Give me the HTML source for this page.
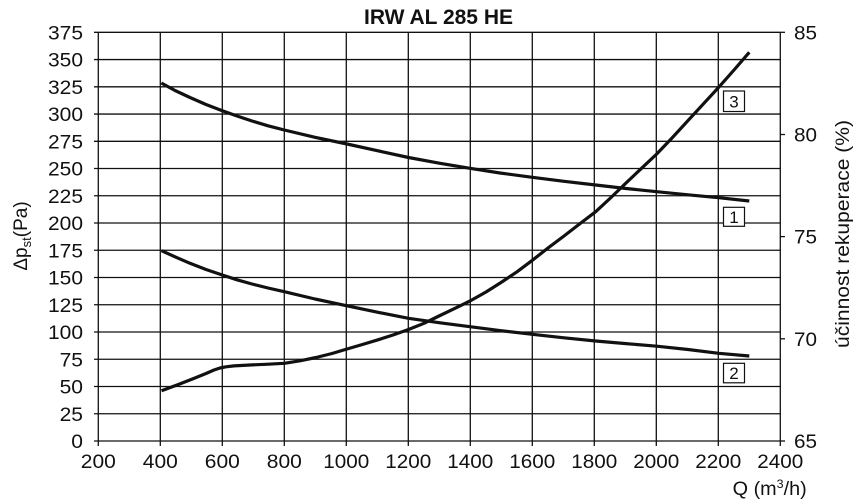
<!DOCTYPE html>
<html><head><meta charset="utf-8"><style>
html,body{margin:0;padding:0;background:#fff;}
svg{display:block;}
text{font-family:"Liberation Sans",Arial,sans-serif;fill:#111;}
</style></head><body>
<svg width="860" height="504" viewBox="0 0 860 504" xmlns="http://www.w3.org/2000/svg">
<rect width="860" height="504" fill="#fff"/>
<text x="438.5" y="24" font-size="21" font-weight="bold" text-anchor="middle">IRW AL 285 HE</text>
<g stroke="#111" stroke-width="1.3" fill="none">
<line x1="94" y1="441" x2="780.3" y2="441"/>
<line x1="94" y1="413.75" x2="780.3" y2="413.75"/>
<line x1="94" y1="386.5" x2="780.3" y2="386.5"/>
<line x1="94" y1="359.26" x2="780.3" y2="359.26"/>
<line x1="94" y1="332.01" x2="780.3" y2="332.01"/>
<line x1="94" y1="304.77" x2="780.3" y2="304.77"/>
<line x1="94" y1="277.52" x2="780.3" y2="277.52"/>
<line x1="94" y1="250.27" x2="780.3" y2="250.27"/>
<line x1="94" y1="223.03" x2="780.3" y2="223.03"/>
<line x1="94" y1="195.78" x2="780.3" y2="195.78"/>
<line x1="94" y1="168.53" x2="780.3" y2="168.53"/>
<line x1="94" y1="141.29" x2="780.3" y2="141.29"/>
<line x1="94" y1="114.04" x2="780.3" y2="114.04"/>
<line x1="94" y1="86.8" x2="780.3" y2="86.8"/>
<line x1="94" y1="59.55" x2="780.3" y2="59.55"/>
<line x1="94" y1="32.3" x2="780.3" y2="32.3"/>
<line x1="98.3" y1="32.3" x2="98.3" y2="446"/>
<line x1="160.3" y1="32.3" x2="160.3" y2="446"/>
<line x1="222.3" y1="32.3" x2="222.3" y2="446"/>
<line x1="284.3" y1="32.3" x2="284.3" y2="446"/>
<line x1="346.3" y1="32.3" x2="346.3" y2="446"/>
<line x1="408.3" y1="32.3" x2="408.3" y2="446"/>
<line x1="470.3" y1="32.3" x2="470.3" y2="446"/>
<line x1="532.3" y1="32.3" x2="532.3" y2="446"/>
<line x1="594.3" y1="32.3" x2="594.3" y2="446"/>
<line x1="656.3" y1="32.3" x2="656.3" y2="446"/>
<line x1="718.3" y1="32.3" x2="718.3" y2="446"/>
<line x1="780.3" y1="32.3" x2="780.3" y2="446"/>
<line x1="780.3" y1="32.3" x2="785" y2="32.3"/>
<line x1="780.3" y1="134.5" x2="785" y2="134.5"/>
<line x1="780.3" y1="236.6" x2="785" y2="236.6"/>
<line x1="780.3" y1="338.8" x2="785" y2="338.8"/>
<line x1="780.3" y1="441" x2="785" y2="441"/>
</g>
<g font-size="19" text-anchor="end">
<text x="83" y="448" textLength="11.7" lengthAdjust="spacingAndGlyphs">0</text>
<text x="83" y="420.75" textLength="23.4" lengthAdjust="spacingAndGlyphs">25</text>
<text x="83" y="393.5" textLength="23.4" lengthAdjust="spacingAndGlyphs">50</text>
<text x="83" y="366.26" textLength="23.4" lengthAdjust="spacingAndGlyphs">75</text>
<text x="83" y="339.01" textLength="35" lengthAdjust="spacingAndGlyphs">100</text>
<text x="83" y="311.77" textLength="35" lengthAdjust="spacingAndGlyphs">125</text>
<text x="83" y="284.52" textLength="35" lengthAdjust="spacingAndGlyphs">150</text>
<text x="83" y="257.27" textLength="35" lengthAdjust="spacingAndGlyphs">175</text>
<text x="83" y="230.03" textLength="35" lengthAdjust="spacingAndGlyphs">200</text>
<text x="83" y="202.78" textLength="35" lengthAdjust="spacingAndGlyphs">225</text>
<text x="83" y="175.53" textLength="35" lengthAdjust="spacingAndGlyphs">250</text>
<text x="83" y="148.29" textLength="35" lengthAdjust="spacingAndGlyphs">275</text>
<text x="83" y="121.04" textLength="35" lengthAdjust="spacingAndGlyphs">300</text>
<text x="83" y="93.8" textLength="35" lengthAdjust="spacingAndGlyphs">325</text>
<text x="83" y="66.55" textLength="35" lengthAdjust="spacingAndGlyphs">350</text>
<text x="83" y="39.3" textLength="35" lengthAdjust="spacingAndGlyphs">375</text>
</g>
<g font-size="19" text-anchor="middle">
<text x="98.3" y="468" textLength="35" lengthAdjust="spacingAndGlyphs">200</text>
<text x="160.3" y="468" textLength="35" lengthAdjust="spacingAndGlyphs">400</text>
<text x="222.3" y="468" textLength="35" lengthAdjust="spacingAndGlyphs">600</text>
<text x="284.3" y="468" textLength="35" lengthAdjust="spacingAndGlyphs">800</text>
<text x="346.3" y="468" textLength="46" lengthAdjust="spacingAndGlyphs">1000</text>
<text x="408.3" y="468" textLength="46" lengthAdjust="spacingAndGlyphs">1200</text>
<text x="470.3" y="468" textLength="46" lengthAdjust="spacingAndGlyphs">1400</text>
<text x="532.3" y="468" textLength="46" lengthAdjust="spacingAndGlyphs">1600</text>
<text x="594.3" y="468" textLength="46" lengthAdjust="spacingAndGlyphs">1800</text>
<text x="656.3" y="468" textLength="46" lengthAdjust="spacingAndGlyphs">2000</text>
<text x="718.3" y="468" textLength="46" lengthAdjust="spacingAndGlyphs">2200</text>
<text x="780.3" y="468" textLength="46" lengthAdjust="spacingAndGlyphs">2400</text>
</g>
<g font-size="19">
<text x="794" y="39.3" textLength="23" lengthAdjust="spacingAndGlyphs">85</text>
<text x="794" y="141.5" textLength="23" lengthAdjust="spacingAndGlyphs">80</text>
<text x="794" y="243.6" textLength="23" lengthAdjust="spacingAndGlyphs">75</text>
<text x="794" y="345.8" textLength="23" lengthAdjust="spacingAndGlyphs">70</text>
<text x="794" y="448" textLength="23" lengthAdjust="spacingAndGlyphs">65</text>
<text x="732.7" y="495" textLength="74" lengthAdjust="spacingAndGlyphs">Q (m<tspan font-size="12" dy="-7">3</tspan><tspan dy="7">/h)</tspan></text>
</g>
<text transform="translate(849,234) rotate(-90)" font-size="19" text-anchor="middle" textLength="228" lengthAdjust="spacingAndGlyphs">účinnost rekuperace (%)</text>
<text transform="translate(27,236) rotate(-90)" font-size="19" text-anchor="middle">Δp<tspan font-size="13" dy="4">st</tspan><tspan dy="-4">(Pa)</tspan></text>
<g stroke="#111" stroke-width="3.2" fill="none" stroke-linejoin="round" stroke-linecap="butt">
<polyline points="161.3,83 175,90.5 190,97.5 206,104.5 222.3,110.7 237,116 252,121 268,125.8 284.3,130 315,137.3 347,144 378,150.8 408.5,157.5 440,163.3 470,168.3 500,173 532.3,177.3 564,181.3 595.7,185 626,188.5 656.7,191.7 688,194.8 718.7,197.7 749.3,201"/>
<polyline points="161.5,250.7 175,256.8 190,263.3 206,269.5 222.3,275 237,279.8 252,284 268,288 284.3,291.7 315,299 347,305.8 378,312.3 408.5,318.3 440,322.8 470,326.7 500,330.6 532.3,334.3 564,337.8 595.7,341 626,343.6 656.7,346.2 688,349.5 718.7,353.3 749.3,356"/>
<polyline points="161.5,390.7 178,384.6 194.3,378.3 206,373.5 214,370 220,368 226,366.8 234,365.9 250,365 266,364.3 284.3,363.3 300,360.8 316,357.5 332,353.5 347,349 362,344.6 378,339.8 393,335 408.5,329.5 424,323.3 439,316 455,308.3 470,301 486,292 501,282.5 517,271.8 532.3,260.3 548,248 564,236 580,223.6 595.7,211.7 611,197.5 626,183 641,168.8 656.7,154 672,138 688,120.6 703,104.3 718.7,87.3 734,70 749.3,52.3"/>
</g>
<g stroke="#111" stroke-width="1.2" fill="#fff">
<rect x="723.5" y="91" width="21" height="20.5"/>
<rect x="723.5" y="207.3" width="21" height="19"/>
<rect x="723.5" y="363.3" width="21" height="19.5"/>
</g>
<g font-size="17" text-anchor="middle">
<text x="734" y="107.5">3</text>
<text x="734" y="223">1</text>
<text x="734" y="379">2</text>
</g>
</svg>
</body></html>
